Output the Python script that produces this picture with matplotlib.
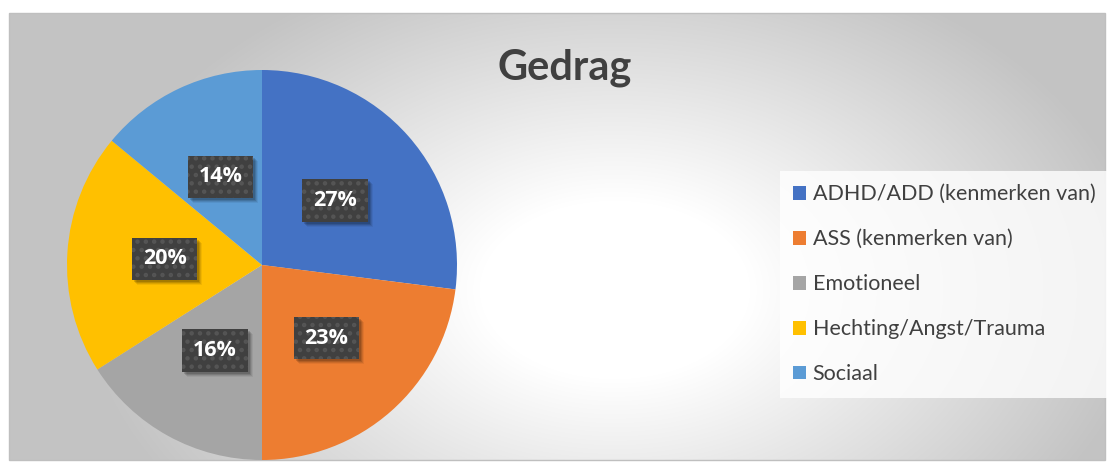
import numpy as np
import matplotlib
matplotlib.use("Agg")
import matplotlib.pyplot as plt
from matplotlib.patches import Rectangle
from matplotlib.transforms import IdentityTransform

categories = ["ADHD/ADD (kenmerken van)", "ASS (kenmerken van)", "Emotioneel",
              "Hechting/Angst/Trauma", "Sociaal"]
values = [27, 23, 16, 20, 14]
colors = ["#4472C4", "#ED7D31", "#A5A5A5", "#FFC000", "#5B9BD5"]
title = "Gedrag"

plt.rcParams["hatch.linewidth"] = 2.0

W, H = 1107, 462
fig = plt.figure(figsize=(W / 100, H / 100), dpi=100)
fig.patch.set_facecolor("white")

# background axes in pixel coordinates
bg = fig.add_axes([0, 0, 1, 1])
bg.set_xlim(0, W)
bg.set_ylim(H, 0)
bg.axis("off")
x0, x1, y0, y1 = 9, 1105, 13, 460
xs = np.arange(x0, x1) + 0.5
ys = np.arange(y0, y1) + 0.5
X, Y = np.meshgrid(xs, ys)
cx, cy, rx, ry = 615, 290, 500, 330
d = np.sqrt(((X - cx) / rx) ** 2 + ((Y - cy) / ry) ** 2)
frac = np.clip((d - 0.27) / 0.8, 0, 1)
g = (255 - (255 - 195) * frac) / 255.0
img = np.dstack([g, g, g])
bg.imshow(img, extent=[x0, x1, y1, y0], aspect="auto", interpolation="bilinear", zorder=0)
bg.add_patch(Rectangle((x0, y0), x1 - x0, y1 - y0, fill=False,
                       edgecolor="#bfbfbf", linewidth=1.0, zorder=1))

# pie axes
pcx, pcy, R = 262, 265, 195
ax = fig.add_axes([(pcx - R) / W, (H - pcy - R) / H, 2 * R / W, 2 * R / H])
ax.set_facecolor("none")
wedges, texts, autotexts = ax.pie(values, colors=colors, startangle=90, counterclock=False,
                                  autopct="%1.0f%%", pctdistance=0.5, radius=1.0,
                                  wedgeprops=dict(linewidth=0))
ax.set_xlim(-1, 1)
ax.set_ylim(-1, 1)
ax.set_aspect("equal")
ax.axis("off")

box_style = "square,pad=0.5"
for t in autotexts:
    t.set_color("white")
    t.set_fontsize(15.5)
    t.set_fontweight("bold")
    t.set_family("Open Sans")
    t.set_zorder(5)
    t.set_bbox(dict(boxstyle=box_style, facecolor="#404040",
                    edgecolor="#555555", linewidth=0, hatch=".."))

fig.text(565 / W, 1 - 68 / H, title, ha="center", va="center", fontsize=30,
         fontweight="bold", color="#404040", family="Lato")

leg = fig.legend(wedges, categories, loc="upper left",
                 bbox_to_anchor=(780 / W, 1 - 171 / H),
                 frameon=True, fancybox=False, prop=dict(family="Lato", size=15.5),
                 labelcolor="#404040", handlelength=0.6, handleheight=0.6,
                 handletextpad=0.3, labelspacing=1.16, borderpad=0.62,
                 borderaxespad=0)
fr = leg.get_frame()
fr.set_facecolor((1, 1, 1, 0.2))
fr.set_edgecolor("none")

# soft shadows behind the label boxes (pixel coords, after layout)
fig.canvas.draw()
for t in autotexts:
    bb = t.get_bbox_patch().get_window_extent()
    for off, a in [(5, 0.06), (4, 0.09), (3, 0.12), (2, 0.14)]:
        r = Rectangle((bb.x0 + off, bb.y0 - off), bb.width, bb.height,
                      transform=IdentityTransform(), facecolor="black", alpha=a,
                      linewidth=0, zorder=3)
        ax.add_artist(r)
        r.set_clip_on(False)

fig.savefig("out.png", dpi=100, facecolor="white")
